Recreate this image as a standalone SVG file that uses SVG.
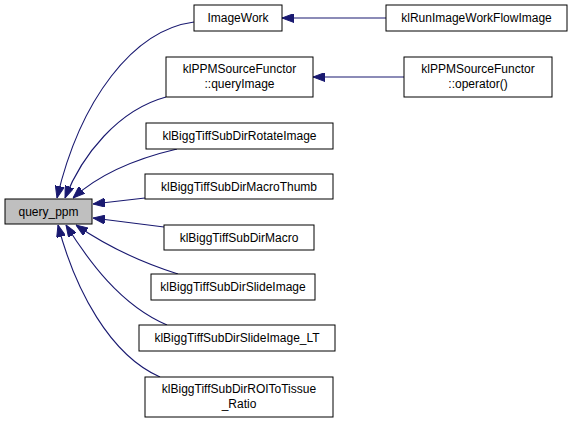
<svg xmlns="http://www.w3.org/2000/svg" width="575" height="423" viewBox="0 0 575 423">
<style>
.n rect{fill:#ffffff;stroke:#000000;stroke-width:1}
.n.cur rect{fill:#bfbfbf;stroke:#000000}
text{font-family:"Liberation Sans",Arial,sans-serif;font-size:12px;fill:#000000;text-anchor:middle}
.e path{fill:none;stroke:#191970;stroke-width:1.1}
</style>
<defs>
<marker id="ah" viewBox="0 0 12 9" refX="12" refY="4.5" markerWidth="12" markerHeight="9" markerUnits="userSpaceOnUse" orient="auto">
<path d="M0,0 L12,4.5 L0,9 z" fill="#191970" stroke="#191970" stroke-width="1"/>
</marker>
</defs>
<rect width="575" height="423" fill="#ffffff"/>
<g id="edges" class="e">
<path d="M386,18 L282,18" marker-end="url(#ah)"/>
<path d="M404,77 L313,77" marker-end="url(#ah)"/>
<path d="M194,22 C133,30 80,100 57,198" marker-end="url(#ah)"/>
<path d="M166,97 C118,110 82,155 65,198" marker-end="url(#ah)"/>
<path d="M177,149 C130,160 95,178 73,198" marker-end="url(#ah)"/>
<path d="M145,198 L93,204" marker-end="url(#ah)"/>
<path d="M164,227 L93,218" marker-end="url(#ah)"/>
<path d="M178,274 C140,262 105,245 76,225" marker-end="url(#ah)"/>
<path d="M167,325 C120,305 88,260 66,225" marker-end="url(#ah)"/>
<path d="M160,377 C110,355 75,290 58,225" marker-end="url(#ah)"/>
</g>
<g id="node_query_ppm" class="n cur"><rect x="5" y="199" width="87" height="25"/><text x="48.5" y="216">query_ppm</text></g>
<g id="node_ImageWork" class="n"><rect x="194" y="5" width="88" height="26"/><text x="238" y="22">ImageWork</text></g>
<g id="node_klRunImageWorkFlowImage" class="n"><rect x="386" y="5" width="181" height="26"/><text x="476.5" y="22">klRunImageWorkFlowImage</text></g>
<g id="node_queryImage" class="n"><rect x="166" y="57" width="147" height="40"/><text x="239.5" y="73">klPPMSourceFunctor</text><text x="239.5" y="88">::queryImage</text></g>
<g id="node_operator" class="n"><rect x="404" y="57" width="148" height="40"/><text x="478" y="73">klPPMSourceFunctor</text><text x="478" y="88">::operator()</text></g>
<g id="node_RotateImage" class="n"><rect x="146" y="123" width="187" height="26"/><text x="239.5" y="140">klBiggTiffSubDirRotateImage</text></g>
<g id="node_MacroThumb" class="n"><rect x="145" y="174" width="188" height="25"/><text x="239" y="191">klBiggTiffSubDirMacroThumb</text></g>
<g id="node_Macro" class="n"><rect x="164" y="225" width="150" height="25"/><text x="239" y="242">klBiggTiffSubDirMacro</text></g>
<g id="node_SlideImage" class="n"><rect x="151" y="274" width="164" height="26"/><text x="233" y="291">klBiggTiffSubDirSlideImage</text></g>
<g id="node_SlideImage_LT" class="n"><rect x="139" y="325" width="196" height="26"/><text x="237" y="342">klBiggTiffSubDirSlideImage_LT</text></g>
<g id="node_ROIToTissue" class="n"><rect x="145" y="377" width="188" height="40"/><text x="239" y="393">klBiggTiffSubDirROIToTissue</text><text x="239" y="408">_Ratio</text></g>
</svg>
